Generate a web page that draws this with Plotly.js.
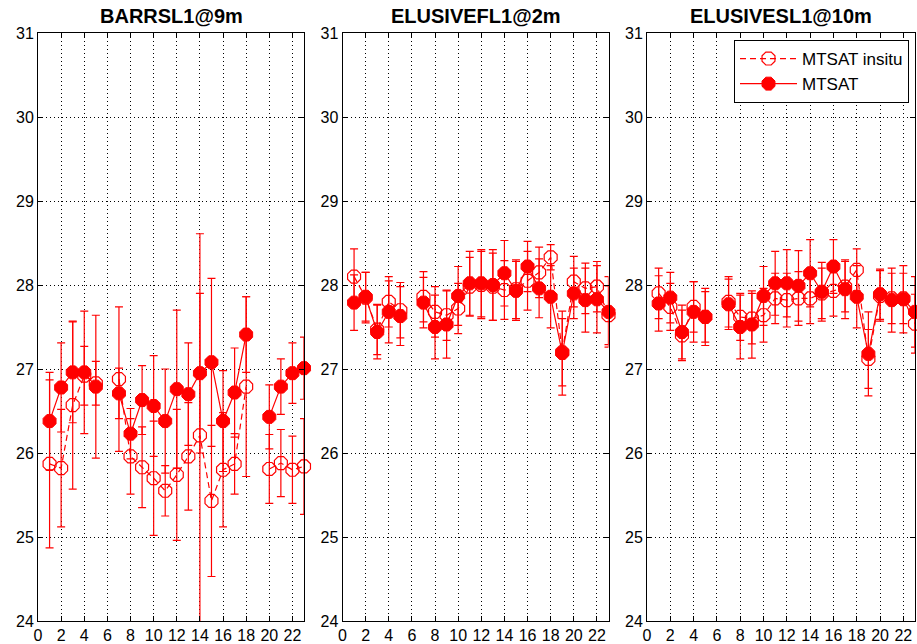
<!DOCTYPE html>
<html>
<head>
<meta charset="utf-8">
<script src="https://cdn.plot.ly/plotly-3.0.1.min.js"></script>
<style>
html,body{margin:0;padding:0;background:#fff;}
#chart{width:917px;height:644px;}
</style>
</head>
<body>
<div id="chart"></div>
<script>
// ---- data ----
const hours = [1,2,3,4,5,6,7,8,9,10,11,12,13,14,15,16,17,18,19,20,21,22,23];
const panelTitles = ['BARRSL1@9m', 'ELUSIVEFL1@2m', 'ELUSIVESL1@10m'];
const seriesNames = ['MTSAT insitu', 'MTSAT'];
const xTicks = [0,2,4,6,8,10,12,14,16,18,20,22];
const yTicks = [24,25,26,27,28,29,30,31];

// BARRSL1@9m
const barrInsitu    = [25.87,25.82,26.57,26.92,26.83,null,26.88,25.96,25.83,25.70,25.55,25.74,25.96,26.21,25.43,25.80,25.87,26.79,null,25.81,25.88,25.80,25.84];
const barrInsituErr = [1.00,0.70,1.00,0.35,0.26,null,0.86,0.45,0.48,0.68,0.30,0.78,0.64,2.40,0.90,0.68,0.36,1.07,null,0.41,0.40,0.40,0.57];
const barrSat       = [26.38,26.78,26.96,26.96,26.79,null,26.71,26.23,26.63,26.56,26.38,26.76,26.70,26.95,27.08,26.38,26.72,27.41,null,26.43,26.79,26.95,27.01];
const barrSatErr    = [0.58,0.53,0.60,0.73,0.85,null,0.30,0.30,0.41,0.60,0.62,0.94,0.61,0.95,1.00,0.60,0.53,0.45,null,0.38,0.33,0.36,0.37];

// ELUSIVEFL1@2m
const efInsitu    = [28.10,27.85,27.47,27.80,27.70,null,27.86,27.68,27.64,27.72,27.98,28.00,27.98,27.94,27.95,28.05,28.15,28.33,27.20,28.04,27.96,27.98,27.64];
const efInsituErr = [0.33,0.30,0.30,0.30,0.33,null,0.30,0.30,0.30,0.30,0.35,0.40,0.40,0.35,0.35,0.35,0.30,0.15,0.40,0.30,0.30,0.30,0.35];
const efSat       = [27.79,27.86,27.44,27.68,27.63,null,27.79,27.50,27.53,27.87,28.02,28.02,28.00,28.14,27.93,28.22,27.96,27.86,27.19,27.90,27.82,27.83,27.68];
const efSatErr    = [0.33,0.29,0.32,0.37,0.35,null,0.30,0.38,0.40,0.35,0.38,0.40,0.42,0.39,0.35,0.30,0.35,0.37,0.50,0.30,0.38,0.40,0.42];

// ELUSIVESL1@10m
const esInsitu    = [27.90,27.74,27.40,27.74,27.62,null,27.80,27.62,27.60,27.64,27.84,27.82,27.84,27.84,27.90,27.93,27.98,28.18,27.12,27.87,27.84,27.84,27.54];
const esInsituErr = [0.30,0.28,0.30,0.30,0.30,null,0.30,0.28,0.30,0.32,0.30,0.32,0.32,0.30,0.30,0.30,0.30,0.25,0.35,0.30,0.30,0.30,0.35];
const esSat       = [27.78,27.85,27.44,27.68,27.62,null,27.77,27.50,27.53,27.87,28.02,28.02,27.99,28.14,27.92,28.22,27.95,27.86,27.18,27.89,27.82,27.83,27.68];
const esSatErr    = [0.33,0.30,0.32,0.36,0.34,null,0.30,0.38,0.40,0.35,0.38,0.40,0.42,0.40,0.35,0.32,0.35,0.37,0.50,0.30,0.38,0.40,0.42];

const panels = [
  {ins: barrInsitu, insE: barrInsituErr, sat: barrSat, satE: barrSatErr},
  {ins: efInsitu,   insE: efInsituErr,   sat: efSat,   satE: efSatErr},
  {ins: esInsitu,   insE: esInsituErr,   sat: esSat,   satE: esSatErr}
];

// ---- layout geometry ----
const W = 917, H = 644;
const xDomPx = [[38,304],[342.5,608.5],[647,915]];
const yTop = 33, yBot = 621;
const RED = '#ff0000';
const tickFont = {family: 'Liberation Sans, Arial, sans-serif', size: 16, color: '#000'};

const traces = [];
panels.forEach((p, i) => {
  const xa = i === 0 ? 'x' : 'x' + (i + 1);
  const ya = i === 0 ? 'y' : 'y' + (i + 1);
  traces.push({
    type: 'scatter', mode: 'lines+markers', x: hours, y: p.ins,
    xaxis: xa, yaxis: ya, name: seriesNames[0], showlegend: i === 2,
    line: {color: RED, width: 1.2, dash: '6px,4px'},
    marker: {symbol: 'octagon-open', size: 14, color: RED, line: {color: RED, width: 1.2}},
    error_y: {type: 'data', array: p.insE, visible: true, color: RED, thickness: 1.2, width: 4},
    cliponaxis: false
  });
  traces.push({
    type: 'scatter', mode: 'lines+markers', x: hours, y: p.sat,
    xaxis: xa, yaxis: ya, name: seriesNames[1], showlegend: i === 2,
    line: {color: RED, width: 1.2},
    marker: {symbol: 'octagon', size: 14, color: RED, line: {color: RED, width: 1}},
    error_y: {type: 'data', array: p.satE, visible: true, color: RED, thickness: 1.2, width: 4},
    cliponaxis: false
  });
});

const layout = {
  width: W, height: H,
  margin: {l: 0, r: 0, t: 0, b: 0, pad: 0},
  paper_bgcolor: '#fff', plot_bgcolor: '#fff',
  showlegend: true,
  legend: {
    x: 909 / W, xanchor: 'right', y: 1 - 40 / H, yanchor: 'top',
    bgcolor: '#fff', bordercolor: '#000', borderwidth: 1,
    font: {family: 'Liberation Sans, Arial, sans-serif', size: 17, color: '#000'},
    itemwidth: 57, tracegroupgap: 0
  },
  annotations: panelTitles.map((t, i) => ({
    text: '<b>' + t + '</b>', xref: 'paper', yref: 'paper',
    x: (xDomPx[i][0] + xDomPx[i][1]) / 2 / W, y: 1 - 16 / H,
    xanchor: 'center', yanchor: 'middle', showarrow: false,
    font: {family: 'Liberation Sans, Arial, sans-serif', size: 20, color: '#000'}
  }))
};

for (let i = 0; i < 3; i++) {
  const sx = i === 0 ? '' : String(i + 1);
  layout['xaxis' + sx] = {
    domain: [xDomPx[i][0] / W, xDomPx[i][1] / W],
    anchor: 'y' + sx, range: [0, 23], autorange: false,
    tickmode: 'array', tickvals: xTicks, ticktext: xTicks.map(String),
    ticks: 'inside', ticklen: 5, tickcolor: '#000', tickwidth: 1,
    showline: true, linecolor: '#000', linewidth: 1, mirror: 'ticks',
    showgrid: true, gridcolor: '#000', gridwidth: 1, griddash: '1px,3px',
    zeroline: false, tickfont: tickFont, automargin: false
  };
  layout['yaxis' + sx] = {
    domain: [1 - yBot / H, 1 - yTop / H],
    anchor: 'x' + sx, range: [24, 31], autorange: false,
    tickmode: 'array', tickvals: yTicks, ticktext: yTicks.map(String),
    ticks: 'inside', ticklen: 5, tickcolor: '#000', tickwidth: 1,
    showline: true, linecolor: '#000', linewidth: 1, mirror: 'ticks',
    showgrid: true, gridcolor: '#000', gridwidth: 1, griddash: '1px,3px',
    zeroline: false, tickfont: tickFont, automargin: false
  };
}

Plotly.newPlot('chart', traces, layout, {staticPlot: true, displayModeBar: false});
</script>
</body>
</html>
